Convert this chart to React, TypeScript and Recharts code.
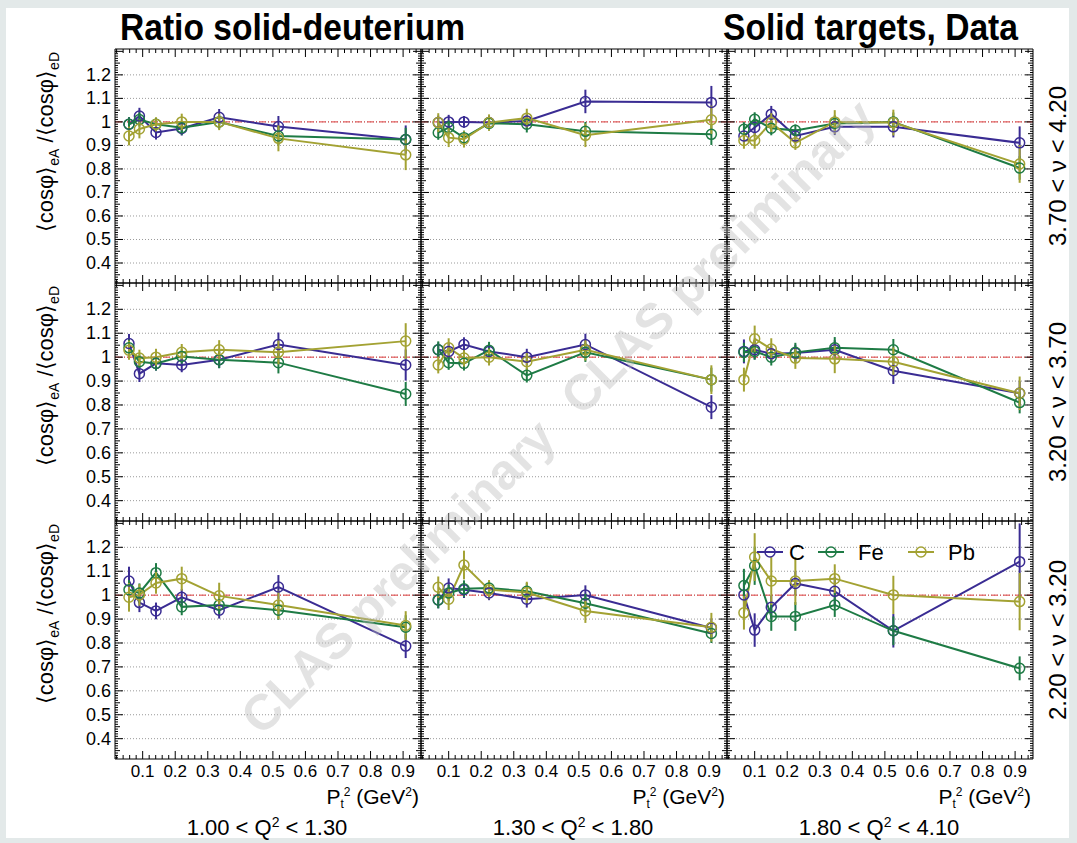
import React from "react";
import { ComposedChart, Line, XAxis, YAxis, ReferenceLine, ErrorBar } from "recharts";

const FONT = "'Liberation Sans', Arial, Helvetica, sans-serif";

// targets, drawn in this order
const targetNames = ["C", "Fe", "Pb"];
const targetKeys = ["c", "fe", "pb"];
const targetColors = ["#3a2c93", "#1e7b45", "#a3a233"];

// Q² bins (columns) and ν bins (rows, highest ν on top)
const q2Bins = [["1.00", "1.30"], ["1.30", "1.80"], ["1.80", "4.10"]];
const nuBins = [["3.70", "4.20"], ["3.20", "3.70"], ["2.20", "3.20"]];

// mean Pt² of each bin, one list per Q² column
const ptBins = [
  [0.058, 0.09, 0.141, 0.22, 0.335, 0.517, 0.908],
  [0.068, 0.1, 0.147, 0.224, 0.34, 0.52, 0.907],
  [0.067, 0.1, 0.151, 0.225, 0.346, 0.526, 0.914],
];

// <cos phi>_eA / <cos phi>_eD, indexed [nu row][Q2 column][pt bin]
const ratioC = [
  [
    [0.99, 1.025, 0.955, 0.972, 1.02, 0.98, 0.925],
    [0.997, 1.0, 1.0, 0.997, 1.004, 1.087, 1.083],
    [0.94, 0.976, 1.033, 0.94, 0.979, 0.979, 0.911],
  ],
  [
    [1.057, 0.931, 0.974, 0.967, 0.989, 1.053, 0.967],
    [1.031, 1.024, 1.053, 1.024, 1.0, 1.053, 0.791],
    [1.024, 1.031, 1.014, 1.017, 1.031, 0.943, 0.849],
  ],
  [
    [1.059, 0.969, 0.934, 0.991, 0.937, 1.034, 0.787],
    [0.98, 1.03, 1.023, 1.009, 0.983, 1.001, 0.863],
    [1.001, 0.854, 0.949, 1.049, 1.016, 0.851, 1.14],
  ],
];
const ratioFe = [
  [
    [0.99, 1.01, 0.99, 0.975, 1.0, 0.94, 0.925],
    [0.954, 0.976, 0.933, 0.994, 0.99, 0.96, 0.947],
    [0.969, 1.011, 0.973, 0.964, 0.993, 1.0, 0.804],
  ],
  [
    [1.039, 0.981, 0.974, 1.003, 0.989, 0.977, 0.846],
    [1.031, 0.977, 0.974, 1.029, 0.924, 1.02, 0.906],
    [1.02, 1.024, 1.0, 1.02, 1.039, 1.031, 0.81],
  ],
  [
    [1.023, 1.009, 1.094, 0.951, 0.959, 0.937, 0.866],
    [0.98, 1.009, 1.027, 1.03, 1.016, 0.966, 0.84],
    [1.04, 1.123, 0.911, 0.911, 0.959, 0.851, 0.694],
  ],
];
const ratioPb = [
  [
    [0.94, 0.97, 0.99, 1.0, 1.0, 0.93, 0.86],
    [0.997, 0.933, 0.926, 0.997, 1.016, 0.943, 1.009],
    [0.921, 0.921, 0.997, 0.911, 1.0, 0.997, 0.821],
  ],
  [
    [1.029, 0.996, 1.0, 1.02, 1.031, 1.02, 1.067],
    [0.967, 1.039, 0.996, 1.0, 0.981, 1.031, 0.906],
    [0.906, 1.077, 1.034, 0.996, 0.993, 0.981, 0.849],
  ],
  [
    [0.991, 1.001, 1.051, 1.069, 0.997, 0.959, 0.873],
    [1.033, 0.983, 1.126, 1.023, 1.011, 0.934, 0.866],
    [0.926, 1.159, 1.059, 1.059, 1.069, 1.001, 0.973],
  ],
];

// statistical errors, same layout
const errC = [
  [
    [0.03, 0.035, 0.03, 0.03, 0.035, 0.045, 0.06],
    [0.03, 0.03, 0.025, 0.03, 0.035, 0.05, 0.07],
    [0.03, 0.035, 0.035, 0.03, 0.035, 0.045, 0.07],
  ],
  [
    [0.04, 0.035, 0.03, 0.03, 0.035, 0.05, 0.065],
    [0.03, 0.035, 0.03, 0.03, 0.035, 0.045, 0.05],
    [0.05, 0.04, 0.035, 0.035, 0.04, 0.055, 0.05],
  ],
  [
    [0.06, 0.04, 0.035, 0.035, 0.035, 0.05, 0.05],
    [0.035, 0.04, 0.035, 0.03, 0.035, 0.04, 0.04],
    [0.05, 0.07, 0.05, 0.05, 0.06, 0.07, 0.16],
  ],
];
const errFe = [
  [
    [0.03, 0.03, 0.025, 0.03, 0.03, 0.04, 0.05],
    [0.03, 0.03, 0.03, 0.03, 0.035, 0.04, 0.045],
    [0.03, 0.03, 0.03, 0.025, 0.035, 0.04, 0.05],
  ],
  [
    [0.035, 0.03, 0.03, 0.03, 0.035, 0.045, 0.05],
    [0.035, 0.03, 0.03, 0.035, 0.03, 0.04, 0.05],
    [0.04, 0.035, 0.035, 0.04, 0.045, 0.045, 0.045],
  ],
  [
    [0.04, 0.04, 0.04, 0.035, 0.04, 0.04, 0.05],
    [0.035, 0.035, 0.035, 0.03, 0.035, 0.04, 0.04],
    [0.07, 0.08, 0.06, 0.06, 0.05, 0.06, 0.05],
  ],
];
const errPb = [
  [
    [0.04, 0.04, 0.03, 0.035, 0.035, 0.055, 0.065],
    [0.04, 0.04, 0.035, 0.035, 0.04, 0.05, 0.06],
    [0.035, 0.035, 0.04, 0.03, 0.05, 0.055, 0.08],
  ],
  [
    [0.04, 0.035, 0.035, 0.035, 0.04, 0.05, 0.075],
    [0.035, 0.04, 0.035, 0.035, 0.04, 0.045, 0.06],
    [0.05, 0.055, 0.045, 0.045, 0.06, 0.06, 0.07],
  ],
  [
    [0.06, 0.045, 0.045, 0.05, 0.055, 0.06, 0.06],
    [0.045, 0.045, 0.06, 0.04, 0.045, 0.05, 0.06],
    [0.07, 0.1, 0.1, 0.1, 0.06, 0.08, 0.12],
  ],
];

// axis labels
const xLabels = [0.1, 0.2, 0.3, 0.4, 0.5, 0.6, 0.7, 0.8, 0.9];
const yLabels = [0.4, 0.5, 0.6, 0.7, 0.8, 0.9, 1.0, 1.1, 1.2];
const xDomain = [0.015, 0.955];
const yDomain = [0.315, 1.31];

// minor tick positions (every 0.02 on x, every 0.01 on y)
const xTicks: number[] = [];
for (let k = 2; k <= 94; k += 2) xTicks.push(k / 100);
const yTicks: number[] = [];
for (let k = 32; k <= 130; k++) yTicks.push(k / 100);

// pad frames
const colLeft = [115, 421, 727];
const colW = 306;
const rowTop = [49, 283, 521];
const rowH = [234, 238, 238];

const fmtY = (v: number) => (Math.abs(v - 1) < 1e-6 ? "1" : v.toFixed(1));

const yTick = (side: "left" | "right", showLabel: boolean) => (props: any) => {
  const { x, y, payload } = props;
  const k = Math.round(payload.value * 100);
  const len = k % 10 === 0 ? 8 : k % 5 === 0 ? 5 : 3;
  const dir = side === "left" ? 1 : -1;
  const labelled = showLabel && yLabels.some((v) => Math.round(v * 100) === k);
  return (
    <g>
      <line x1={x} y1={y} x2={x + dir * len} y2={y} stroke="#000" strokeWidth={1} />
      {labelled && (
        <text x={x - 4} y={y + 6} textAnchor="end" fontSize={18} fontFamily={FONT} fill="#000">
          {fmtY(payload.value)}
        </text>
      )}
    </g>
  );
};

const xTick = (side: "top" | "bottom", showLabel: boolean) => (props: any) => {
  const { x, y, payload } = props;
  const k = Math.round(payload.value * 100);
  const len = k % 10 === 0 ? 8 : 4;
  const dir = side === "bottom" ? -1 : 1;
  const labelled = showLabel && xLabels.some((v) => Math.round(v * 100) === k);
  return (
    <g>
      <line x1={x} y1={y} x2={x} y2={y + dir * len} stroke="#000" strokeWidth={1} />
      {labelled && (
        <text x={x} y={y + 18} textAnchor="middle" fontSize={17} fontFamily={FONT} fill="#000">
          {(k / 100).toFixed(1)}
        </text>
      )}
    </g>
  );
};

function Panel({ row, col }: { row: number; col: number }) {
  const data = ptBins[col].map((x, i) => ({
    x,
    c: ratioC[row][col][i],
    cErr: errC[row][col][i],
    fe: ratioFe[row][col][i],
    feErr: errFe[row][col][i],
    pb: ratioPb[row][col][i],
    pbErr: errPb[row][col][i],
  }));
  // room around the frame; each axis itself is 1px thick
  const ml = col === 0 ? 50 : 3;
  const mr = 3;
  const mt = 3;
  const mb = row === 2 ? 30 : 3;
  const frame = { stroke: "#000", strokeWidth: 1 };
  return (
    <div style={{ position: "absolute", left: colLeft[col] - ml, top: rowTop[row] - mt }}>
      <ComposedChart
        width={colW + ml + mr}
        height={rowH[row] + mt + mb}
        data={data}
        margin={{ top: mt - 1, right: mr - 1, bottom: mb - 1, left: ml - 1 }}
      >
        <XAxis xAxisId="b" dataKey="x" type="number" domain={xDomain} ticks={xTicks} interval={0}
          height={1} tickSize={0} tickMargin={0} tickLine={false} axisLine={frame}
          allowDataOverflow tick={xTick("bottom", row === 2)} />
        <XAxis xAxisId="t" orientation="top" dataKey="x" type="number" domain={xDomain} ticks={xTicks}
          interval={0} height={1} tickSize={0} tickMargin={0} tickLine={false} axisLine={frame}
          allowDataOverflow tick={xTick("top", false)} />
        <YAxis yAxisId="l" type="number" domain={yDomain} ticks={yTicks} interval={0} width={1}
          tickSize={0} tickMargin={0} tickLine={false} axisLine={frame} allowDataOverflow
          tick={yTick("left", col === 0)} />
        <YAxis yAxisId="r" orientation="right" type="number" domain={yDomain} ticks={yTicks} interval={0}
          width={1} tickSize={0} tickMargin={0} tickLine={false} axisLine={frame} allowDataOverflow
          tick={yTick("right", false)} />
        {yLabels.map((v) => (
          <ReferenceLine key={v} xAxisId="b" yAxisId="l" y={v} stroke="#9a9a9a" strokeDasharray="1 2" />
        ))}
        <ReferenceLine xAxisId="b" yAxisId="l" y={1} stroke="#e23a3a" strokeDasharray="7 2 1 2" />
        {targetKeys.map((key, i) => (
          <Line
            key={key}
            xAxisId="b"
            yAxisId="l"
            type="linear"
            dataKey={key}
            name={targetNames[i]}
            stroke={targetColors[i]}
            strokeWidth={2}
            dot={{ r: 5, fill: "none", stroke: targetColors[i], strokeWidth: 1.5 }}
            activeDot={false}
            isAnimationActive={false}
          >
            <ErrorBar dataKey={key + "Err"} width={0} stroke={targetColors[i]} strokeWidth={2} direction="y" />
          </Line>
        ))}
      </ComposedChart>
    </div>
  );
}

function Labels() {
  const legendX = [757, 818, 908];
  const legendY = 552;
  return (
    <svg width={1077} height={843} style={{ position: "absolute", left: 0, top: 0, pointerEvents: "none" }}>
      <text x={120} y={40} fontSize={36} fontWeight="bold" fontFamily={FONT} textLength={345}
        lengthAdjust="spacingAndGlyphs">Ratio solid-deuterium</text>
      <text x={723} y={40} fontSize={36} fontWeight="bold" fontFamily={FONT} textLength={295}
        lengthAdjust="spacingAndGlyphs">Solid targets, Data</text>

      {rowTop.map((t, r) => (
        <g key={r}>
          <text transform={`translate(53, ${t + 3}) rotate(-90)`} textAnchor="end" fontSize={22} fontFamily={FONT}>
            ⟨cosφ⟩<tspan dy={6} fontSize={14}>eA</tspan>
            <tspan dy={-6}> /⟨cosφ⟩</tspan>
            <tspan dy={6} fontSize={14}>eD</tspan>
          </text>
          <text transform={`translate(1066, ${t + rowH[r] / 2}) rotate(-90)`} textAnchor="middle"
            fontSize={24} fontFamily={FONT}>
            {nuBins[r][0]} &lt; ν &lt; {nuBins[r][1]}
          </text>
        </g>
      ))}

      {colLeft.map((l, c) => (
        <g key={c}>
          <text x={l + colW - 2} y={804} textAnchor="end" fontSize={21} fontFamily={FONT}>
            P<tspan dy={4} fontSize={12}>t</tspan>
            <tspan dy={-12} fontSize={12}>2</tspan>
            <tspan dy={8}> (GeV</tspan>
            <tspan dy={-8} fontSize={12}>2</tspan>
            <tspan dy={8}>)</tspan>
          </text>
          <text x={l + colW / 2 - 1} y={835} textAnchor="middle" fontSize={22} fontFamily={FONT}>
            {q2Bins[c][0]} &lt; Q<tspan dy={-8} fontSize={14}>2</tspan>
            <tspan dy={8}> &lt; {q2Bins[c][1]}</tspan>
          </text>
        </g>
      ))}

      {targetNames.map((name, i) => (
        <g key={name}>
          <line x1={legendX[i]} y1={legendY} x2={legendX[i] + 26} y2={legendY} stroke={targetColors[i]} strokeWidth={2} />
          <circle cx={legendX[i] + 13} cy={legendY} r={5} fill="none" stroke={targetColors[i]} strokeWidth={1.5} />
          <text x={legendX[i] + (i === 0 ? 32 : 40)} y={legendY + 8} fontSize={22} fontFamily={FONT}>{name}</text>
        </g>
      ))}

      <g fill="#b8b8b8" fillOpacity={0.4} fontSize={50} fontWeight="bold" fontFamily={FONT}>
        <text transform="translate(398, 577) rotate(-45)" textAnchor="middle" dy={17}>CLAS preliminary</text>
        <text transform="translate(718, 257) rotate(-45)" textAnchor="middle" dy={17}>CLAS preliminary</text>
      </g>
    </svg>
  );
}

export default function App() {
  return (
    <div style={{ position: "absolute", left: 0, top: 0, width: 1077, height: 843, background: "#e3e9e9" }}>
      <div style={{ position: "absolute", left: 6, top: 8, width: 1063, height: 830, background: "#fff" }} />
      {rowTop.map((_, r) => colLeft.map((_, c) => <Panel key={`${r}-${c}`} row={r} col={c} />))}
      <Labels />
    </div>
  );
}
